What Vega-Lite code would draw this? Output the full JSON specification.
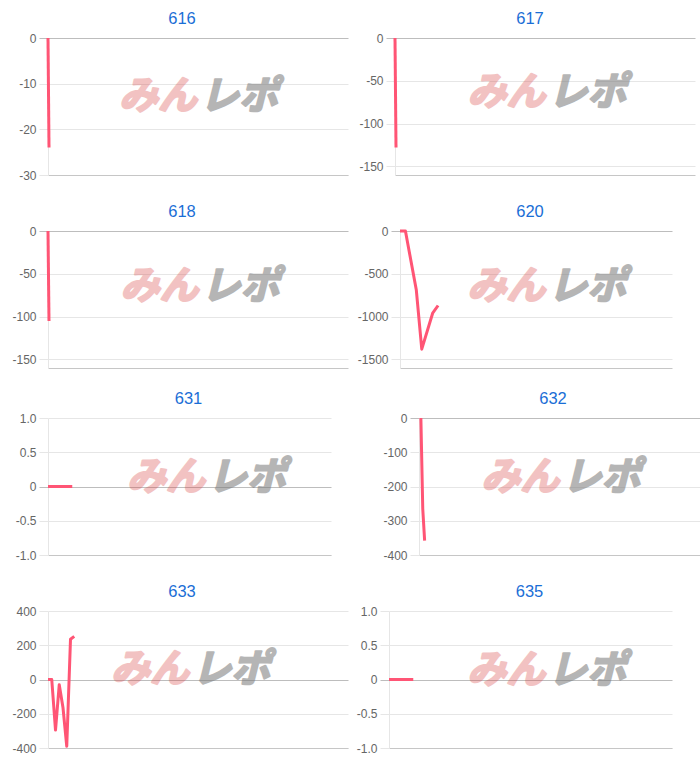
{
  "$schema": "https://vega.github.io/schema/vega-lite/v6.json",
  "padding": {"top": 10, "left": 0, "right": 0, "bottom": 0},
  "background": "white",
  "config": {
    "view": {"stroke": null},
    "font": "Liberation Sans",
    "title": {"fontSize": 16.5, "fontWeight": "normal", "color": "#1a6ed6", "font": "Liberation Sans", "anchor": "middle", "frame": "group", "baseline": "alphabetic", "offset": 5},
    "axisX": {"labels": false, "ticks": false, "grid": false, "domainColor": "#c6c6c6", "domainWidth": 1, "title": null, "minExtent": 0, "maxExtent": 0},
    "axisY": {"domainColor": "#e6e6e6", "tickSize": 9, "labelPadding": 3, "labelColor": "#666666", "labelFontSize": 12, "labelFont": "Liberation Sans", "labelOverlap": false, "tickCount": 12, "title": null, "gridColor": {"condition": {"test": "datum.value === 0", "value": "#bdbdbd"}, "value": "#e6e6e6"}, "tickColor": {"condition": {"test": "datum.value === 0", "value": "#bdbdbd"}, "value": "#e6e6e6"}},
    "line": {"color": "#ff5575", "strokeWidth": 3, "strokeJoin": "round"},
    "text": {"font": "Noto Sans CJK JP", "fontSize": 39, "fontWeight": "bold", "fontStyle": "italic", "baseline": "middle", "clip": true, "strokeWidth": 2.2, "strokeJoin": "round"}
  },
  "datasets": {
    "one": [{}],
    "p616": [{"x": 0, "y": 0}, {"x": 1, "y": -24}],
    "p617": [{"x": 0, "y": 0}, {"x": 1, "y": -128}],
    "p618": [{"x": 0, "y": 0}, {"x": 1, "y": -105}],
    "p620": [{"x": 0, "y": 0}, {"x": 1, "y": 0}, {"x": 3, "y": -690}, {"x": 4, "y": -1380}, {"x": 6, "y": -960}, {"x": 7, "y": -870}],
    "p631": [{"x": 0, "y": 0}, {"x": 1, "y": 0}, {"x": 2, "y": 0}, {"x": 3, "y": 0}, {"x": 4, "y": 0}, {"x": 5, "y": 0}, {"x": 6, "y": 0}],
    "p632": [{"x": 1, "y": 0}, {"x": 2, "y": -265}, {"x": 3, "y": -358}],
    "p633": [{"x": 0, "y": 0}, {"x": 1, "y": 0}, {"x": 2, "y": -295}, {"x": 3, "y": -30}, {"x": 4, "y": -165}, {"x": 5, "y": -390}, {"x": 6, "y": 235}, {"x": 7, "y": 252}],
    "p635": [{"x": 0, "y": 0}, {"x": 1, "y": 0}, {"x": 2, "y": 0}, {"x": 3, "y": 0}, {"x": 4, "y": 0}, {"x": 5, "y": 0}, {"x": 6, "y": 0}]
  },
  "columns": 2,
  "align": "none",
  "spacing": {"row": 22, "column": 0},
  "concat": [
    {
      "width": 300, "height": 137,
      "title": {"text": "616", "dx": -16},
      "layer": [
        {"data": {"name": "p616"}, "mark": "line", "encoding": {
          "x": {"field": "x", "type": "quantitative", "scale": {"domain": [0, 300]}, "axis": {"title": null}},
          "y": {"field": "y", "type": "quantitative", "scale": {"domain": [-30, 0]}, "axis": {"title": null, "values": [0, -10, -20, -30], "labelExpr": "'' + datum.value", "minExtent": 47, "maxExtent": 47}}}},
        {"data": {"name": "one"}, "mark": {"type": "text", "text": "みん", "align": "right", "color": "#d94a4a", "stroke": "#d94a4a", "opacity": 0.33, "dx": -1}, "encoding": {"x": {"datum": 150, "type": "quantitative", "title": null}, "y": {"datum": -13, "type": "quantitative", "title": null}}},
        {"data": {"name": "one"}, "mark": {"type": "text", "text": "レポ", "align": "left", "color": "#7a7a7a", "stroke": "#7a7a7a", "opacity": 0.55, "dx": 2}, "encoding": {"x": {"datum": 150, "type": "quantitative", "title": null}, "y": {"datum": -13, "type": "quantitative", "title": null}}}
      ]
    },
    {
      "width": 300, "height": 137,
      "title": {"text": "617", "dx": -15},
      "layer": [
        {"data": {"name": "p617"}, "mark": "line", "encoding": {
          "x": {"field": "x", "type": "quantitative", "scale": {"domain": [0, 300]}, "axis": {"title": null}},
          "y": {"field": "y", "type": "quantitative", "scale": {"domain": [-150, 0]}, "axis": {"title": null, "values": [0, -50, -100, -150], "labelExpr": "'' + datum.value", "minExtent": 47, "maxExtent": 47}}}},
        {"data": {"name": "one"}, "mark": {"type": "text", "text": "みん", "align": "right", "color": "#d94a4a", "stroke": "#d94a4a", "opacity": 0.33, "dx": -1}, "encoding": {"x": {"datum": 151.5, "type": "quantitative", "title": null}, "y": {"datum": -64.8, "type": "quantitative", "title": null}}},
        {"data": {"name": "one"}, "mark": {"type": "text", "text": "レポ", "align": "left", "color": "#7a7a7a", "stroke": "#7a7a7a", "opacity": 0.55, "dx": 2}, "encoding": {"x": {"datum": 151.5, "type": "quantitative", "title": null}, "y": {"datum": -64.8, "type": "quantitative", "title": null}}}
      ]
    },
    {
      "width": 300, "height": 137,
      "title": {"text": "618", "dx": -16},
      "layer": [
        {"data": {"name": "p618"}, "mark": "line", "encoding": {
          "x": {"field": "x", "type": "quantitative", "scale": {"domain": [0, 300]}, "axis": {"title": null}},
          "y": {"field": "y", "type": "quantitative", "scale": {"domain": [-150, 0]}, "axis": {"title": null, "values": [0, -50, -100, -150], "labelExpr": "'' + datum.value", "minExtent": 46, "maxExtent": 46}}}},
        {"data": {"name": "one"}, "mark": {"type": "text", "text": "みん", "align": "right", "color": "#d94a4a", "stroke": "#d94a4a", "opacity": 0.33, "dx": -1}, "encoding": {"x": {"datum": 151.5, "type": "quantitative", "title": null}, "y": {"datum": -65, "type": "quantitative", "title": null}}},
        {"data": {"name": "one"}, "mark": {"type": "text", "text": "レポ", "align": "left", "color": "#7a7a7a", "stroke": "#7a7a7a", "opacity": 0.55, "dx": 2}, "encoding": {"x": {"datum": 151.5, "type": "quantitative", "title": null}, "y": {"datum": -65, "type": "quantitative", "title": null}}}
      ]
    },
    {
      "width": 272, "height": 137,
      "title": {"text": "620", "dx": -6},
      "layer": [
        {"data": {"name": "p620"}, "mark": "line", "encoding": {
          "x": {"field": "x", "type": "quantitative", "scale": {"domain": [0, 50]}, "axis": {"title": null}},
          "y": {"field": "y", "type": "quantitative", "scale": {"domain": [-1500, 0]}, "axis": {"title": null, "values": [0, -500, -1000, -1500], "labelExpr": "'' + datum.value", "minExtent": 52, "maxExtent": 52}}}},
        {"data": {"name": "one"}, "mark": {"type": "text", "text": "みん", "align": "right", "color": "#d94a4a", "stroke": "#d94a4a", "opacity": 0.33, "dx": -1}, "encoding": {"x": {"datum": 26.9, "type": "quantitative", "title": null}, "y": {"datum": -650, "type": "quantitative", "title": null}}},
        {"data": {"name": "one"}, "mark": {"type": "text", "text": "レポ", "align": "left", "color": "#7a7a7a", "stroke": "#7a7a7a", "opacity": 0.55, "dx": 2}, "encoding": {"x": {"datum": 26.9, "type": "quantitative", "title": null}, "y": {"datum": -650, "type": "quantitative", "title": null}}}
      ]
    },
    {
      "width": 283, "height": 137,
      "title": {"text": "631", "dx": -1},
      "layer": [
        {"data": {"name": "p631"}, "mark": "line", "encoding": {
          "x": {"field": "x", "type": "quantitative", "scale": {"domain": [0, 70]}, "axis": {"title": null}},
          "y": {"field": "y", "type": "quantitative", "scale": {"domain": [-1, 1]}, "axis": {"title": null, "values": [1, 0.5, 0, -0.5, -1], "labelExpr": "datum.value === 1 ? '1.0' : datum.value === -1 ? '-1.0' : '' + datum.value", "minExtent": 39, "maxExtent": 39}}}},
        {"data": {"name": "one"}, "mark": {"type": "text", "text": "みん", "align": "right", "color": "#d94a4a", "stroke": "#d94a4a", "opacity": 0.33, "dx": -1}, "encoding": {"x": {"datum": 39.1, "type": "quantitative", "title": null}, "y": {"datum": 0.13, "type": "quantitative", "title": null}}},
        {"data": {"name": "one"}, "mark": {"type": "text", "text": "レポ", "align": "left", "color": "#7a7a7a", "stroke": "#7a7a7a", "opacity": 0.55, "dx": 2}, "encoding": {"x": {"datum": 39.1, "type": "quantitative", "title": null}, "y": {"datum": 0.13, "type": "quantitative", "title": null}}}
      ]
    },
    {
      "width": 300, "height": 137,
      "title": {"text": "632", "dx": -16},
      "layer": [
        {"data": {"name": "p632"}, "mark": "line", "encoding": {
          "x": {"field": "x", "type": "quantitative", "scale": {"domain": [0, 150]}, "axis": {"title": null}},
          "y": {"field": "y", "type": "quantitative", "scale": {"domain": [-400, 0]}, "axis": {"title": null, "values": [0, -100, -200, -300, -400], "labelExpr": "'' + datum.value", "minExtent": 71, "maxExtent": 71}}}},
        {"data": {"name": "one"}, "mark": {"type": "text", "text": "みん", "align": "right", "color": "#d94a4a", "stroke": "#d94a4a", "opacity": 0.33, "dx": -1}, "encoding": {"x": {"datum": 75.4, "type": "quantitative", "title": null}, "y": {"datum": -174, "type": "quantitative", "title": null}}},
        {"data": {"name": "one"}, "mark": {"type": "text", "text": "レポ", "align": "left", "color": "#7a7a7a", "stroke": "#7a7a7a", "opacity": 0.55, "dx": 2}, "encoding": {"x": {"datum": 75.4, "type": "quantitative", "title": null}, "y": {"datum": -174, "type": "quantitative", "title": null}}}
      ]
    },
    {
      "width": 300, "height": 137,
      "title": {"text": "633", "dx": -16},
      "layer": [
        {"data": {"name": "p633"}, "mark": "line", "encoding": {
          "x": {"field": "x", "type": "quantitative", "scale": {"domain": [0, 75]}, "axis": {"title": null}},
          "y": {"field": "y", "type": "quantitative", "scale": {"domain": [-400, 400]}, "axis": {"title": null, "values": [400, 200, 0, -200, -400], "labelExpr": "'' + datum.value", "minExtent": 48, "maxExtent": 48}}}},
        {"data": {"name": "one"}, "mark": {"type": "text", "text": "みん", "align": "right", "color": "#d94a4a", "stroke": "#d94a4a", "opacity": 0.33, "dx": -1}, "encoding": {"x": {"datum": 37.9, "type": "quantitative", "title": null}, "y": {"datum": 54.5, "type": "quantitative", "title": null}}},
        {"data": {"name": "one"}, "mark": {"type": "text", "text": "レポ", "align": "left", "color": "#7a7a7a", "stroke": "#7a7a7a", "opacity": 0.55, "dx": 2}, "encoding": {"x": {"datum": 37.9, "type": "quantitative", "title": null}, "y": {"datum": 54.5, "type": "quantitative", "title": null}}}
      ]
    },
    {
      "width": 283, "height": 137,
      "title": {"text": "635", "dx": -1},
      "layer": [
        {"data": {"name": "p635"}, "mark": "line", "encoding": {
          "x": {"field": "x", "type": "quantitative", "scale": {"domain": [0, 70]}, "axis": {"title": null}},
          "y": {"field": "y", "type": "quantitative", "scale": {"domain": [-1, 1]}, "axis": {"title": null, "values": [1, 0.5, 0, -0.5, -1], "labelExpr": "datum.value === 1 ? '1.0' : datum.value === -1 ? '-1.0' : '' + datum.value", "minExtent": 41, "maxExtent": 41}}}},
        {"data": {"name": "one"}, "mark": {"type": "text", "text": "みん", "align": "right", "color": "#d94a4a", "stroke": "#d94a4a", "opacity": 0.33, "dx": -1}, "encoding": {"x": {"datum": 38.9, "type": "quantitative", "title": null}, "y": {"datum": 0.13, "type": "quantitative", "title": null}}},
        {"data": {"name": "one"}, "mark": {"type": "text", "text": "レポ", "align": "left", "color": "#7a7a7a", "stroke": "#7a7a7a", "opacity": 0.55, "dx": 2}, "encoding": {"x": {"datum": 38.9, "type": "quantitative", "title": null}, "y": {"datum": 0.13, "type": "quantitative", "title": null}}}
      ]
    }
  ]
}
